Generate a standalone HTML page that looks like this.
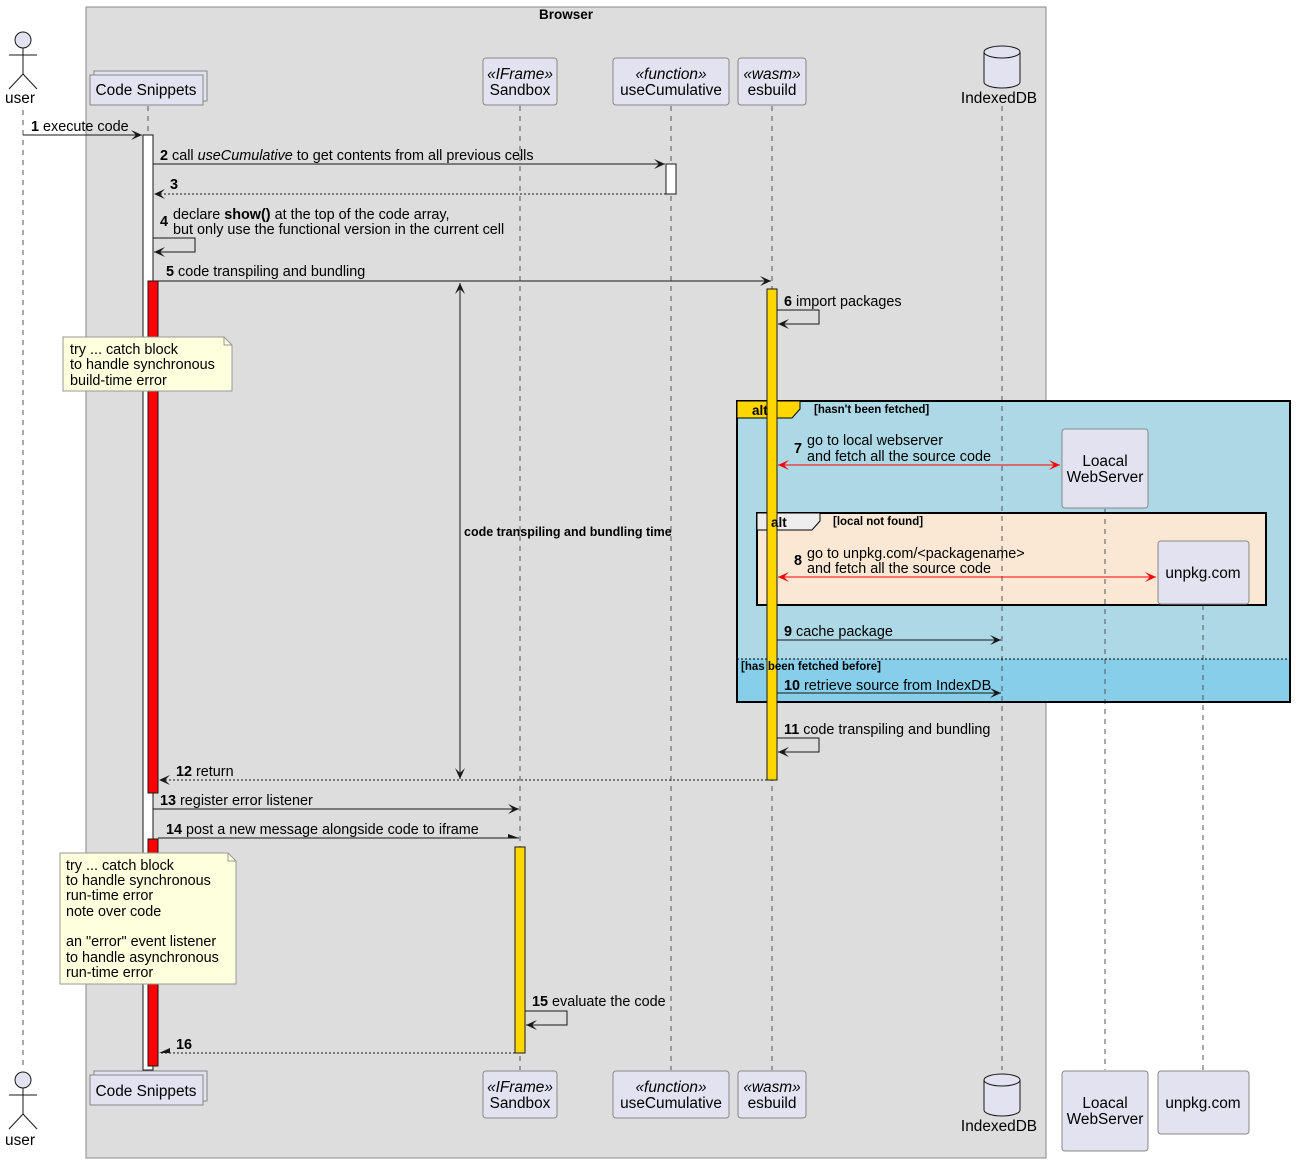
<!DOCTYPE html>
<html><head><meta charset="utf-8"><style>
html,body{margin:0;padding:0;background:#fff}
svg{display:block}
text{font-family:"Liberation Sans","DejaVu Sans",sans-serif;fill:#000}
.m{font-size:14.4px}
.b{font-weight:bold}
.p{font-size:15.4px}
.ll{stroke:#555;stroke-width:1;stroke-dasharray:5,5}
.ln{stroke:#181818;stroke-width:1;fill:none}
.dl{stroke:#181818;stroke-width:1;stroke-dasharray:2,2;fill:none}
.box{fill:#E2E2F0;stroke:#888;stroke-width:1}
</style></head><body>
<svg width="1296" height="1163" viewBox="0 0 1296 1163" xmlns="http://www.w3.org/2000/svg">
<defs>
<marker id="a" markerWidth="12" markerHeight="10" refX="11" refY="5" orient="auto" markerUnits="userSpaceOnUse"><path d="M0,0 L11,5 L0,10 L5,5 Z" fill="#181818"/></marker>
<marker id="r" markerWidth="12" markerHeight="10" refX="11" refY="5" orient="auto-start-reverse" markerUnits="userSpaceOnUse"><path d="M0,0 L11,5 L0,10 L5,5 Z" fill="#f00"/></marker>
<marker id="v" markerWidth="12" markerHeight="10" refX="11" refY="5" orient="auto-start-reverse" markerUnits="userSpaceOnUse"><path d="M0,0 L11,5 L0,10 L5,5 Z" fill="#181818"/></marker>
<marker id="h" markerWidth="12" markerHeight="10" refX="11" refY="5" orient="auto" markerUnits="userSpaceOnUse"><path d="M0,1 L11,5 L0,5 Z" fill="#181818"/></marker>
</defs>
<rect x="86" y="7" width="960" height="1151" fill="#DDDDDD" stroke="#888"/>
<text x="566" y="19" class="b" font-size="13.5" text-anchor="middle">Browser</text>

<rect x="737" y="401" width="553" height="301" fill="#ADD8E6"/>
<rect x="738" y="659" width="551" height="42" fill="#87CEEB"/>
<rect x="757" y="513" width="509" height="92" fill="#FAE8D4"/>

<line class="ll" x1="23" y1="110" x2="23" y2="1070"/>
<line class="ll" x1="148" y1="106" x2="148" y2="1070"/>
<line class="ll" x1="520" y1="106" x2="520" y2="1070"/>
<line class="ll" x1="671" y1="106" x2="671" y2="1070"/>
<line class="ll" x1="772" y1="106" x2="772" y2="1070"/>
<line class="ll" x1="1002" y1="106" x2="1002" y2="1070"/>
<line class="ll" x1="1105" y1="509" x2="1105" y2="1070"/>
<line class="ll" x1="1203" y1="605" x2="1203" y2="1070"/>

<rect x="737" y="401" width="553" height="301" fill="none" stroke="#000" stroke-width="2"/>
<line x1="737" y1="659" x2="1290" y2="659" stroke="#000" stroke-dasharray="2,2"/>
<path d="M737,401 L800,401 L800,409 L792,418 L737,418 Z" fill="#FFD700" stroke="#000"/>
<rect x="757" y="513" width="509" height="92" fill="none" stroke="#000" stroke-width="2"/>
<path d="M757,513 L820,513 L820,521 L812,530 L757,530 Z" fill="#EEEEEE" stroke="#000"/>

<g stroke="#181818" fill="#E2E2F0">
<circle cx="23" cy="40" r="8"/>
<line x1="23" y1="48" x2="23" y2="74"/><line x1="9" y1="55" x2="37" y2="55"/>
<line x1="23" y1="74" x2="9" y2="89"/><line x1="23" y1="74" x2="37" y2="89"/>
<circle cx="23" cy="1080" r="8"/>
<line x1="23" y1="1088" x2="23" y2="1114"/><line x1="9" y1="1095" x2="37" y2="1095"/>
<line x1="23" y1="1114" x2="9" y2="1129"/><line x1="23" y1="1114" x2="37" y2="1129"/>
</g>
<text x="20" y="103" class="p" text-anchor="middle">user</text>
<text x="20" y="1145" class="p" text-anchor="middle">user</text>

<rect class="box" x="94" y="71" width="113" height="30"/>
<rect class="box" x="90" y="75" width="113" height="30"/>
<text x="146" y="95" class="p" text-anchor="middle">Code Snippets</text>
<rect class="box" x="483" y="58" width="74" height="47" rx="3"/>
<text x="520" y="79" class="p" text-anchor="middle" font-style="italic">«IFrame»</text>
<text x="520" y="95" class="p" text-anchor="middle">Sandbox</text>
<rect class="box" x="613" y="58" width="116" height="47" rx="3"/>
<text x="671" y="79" class="p" text-anchor="middle" font-style="italic">«function»</text>
<text x="671" y="95" class="p" text-anchor="middle">useCumulative</text>
<rect class="box" x="738" y="58" width="68" height="47" rx="3"/>
<text x="772" y="79" class="p" text-anchor="middle" font-style="italic">«wasm»</text>
<text x="772" y="95" class="p" text-anchor="middle">esbuild</text>
<g stroke="#181818" fill="#E2E2F0">
<path d="M984,52 L984,82 A18,6 0 0 0 1020,82 L1020,52"/>
<ellipse cx="1002" cy="52" rx="18" ry="6"/>
</g>
<text x="999" y="103" class="p" text-anchor="middle">IndexedDB</text>

<rect class="box" x="94" y="1071" width="113" height="30"/>
<rect class="box" x="90" y="1075" width="113" height="30"/>
<text x="146" y="1096" class="p" text-anchor="middle">Code Snippets</text>
<rect class="box" x="483" y="1071" width="74" height="47" rx="3"/>
<text x="520" y="1092" class="p" text-anchor="middle" font-style="italic">«IFrame»</text>
<text x="520" y="1108" class="p" text-anchor="middle">Sandbox</text>
<rect class="box" x="613" y="1071" width="116" height="47" rx="3"/>
<text x="671" y="1092" class="p" text-anchor="middle" font-style="italic">«function»</text>
<text x="671" y="1108" class="p" text-anchor="middle">useCumulative</text>
<rect class="box" x="738" y="1071" width="68" height="47" rx="3"/>
<text x="772" y="1092" class="p" text-anchor="middle" font-style="italic">«wasm»</text>
<text x="772" y="1108" class="p" text-anchor="middle">esbuild</text>
<g stroke="#181818" fill="#E2E2F0">
<path d="M984,1080 L984,1110 A18,6 0 0 0 1020,1110 L1020,1080"/>
<ellipse cx="1002" cy="1080" rx="18" ry="6"/>
</g>
<text x="999" y="1131" class="p" text-anchor="middle">IndexedDB</text>
<rect class="box" x="1062" y="1071" width="86" height="80" rx="3"/>
<text x="1105" y="1108" class="p" text-anchor="middle">Loacal</text>
<text x="1105" y="1124" class="p" text-anchor="middle">WebServer</text>
<rect class="box" x="1158" y="1071" width="91" height="63" rx="3"/>
<text x="1203" y="1108" class="p" text-anchor="middle">unpkg.com</text>

<rect x="143" y="135" width="10" height="935" fill="#fff" stroke="#181818"/>
<rect x="666" y="164" width="10" height="30" fill="#fff" stroke="#181818"/>
<rect x="148" y="281" width="10" height="512" fill="#f00" stroke="#181818"/>
<rect x="148" y="839" width="10" height="227" fill="#f00" stroke="#181818"/>

<rect class="box" x="1062" y="429" width="86" height="79" rx="3"/>
<text x="1105" y="466" class="p" text-anchor="middle">Loacal</text>
<text x="1105" y="482" class="p" text-anchor="middle">WebServer</text>
<rect class="box" x="1158" y="541" width="91" height="63" rx="3"/>
<text x="1203" y="578" class="p" text-anchor="middle">unpkg.com</text>

<rect x="767" y="289" width="10" height="491" fill="#FFD700" stroke="#181818"/>
<rect x="515" y="847" width="10" height="206" fill="#FFD700" stroke="#181818"/>

<text x="752" y="415" class="b" font-size="13.5">alt</text>
<text x="814" y="413" class="b" font-size="11.5">[hasn't been fetched]</text>
<text x="741" y="670" class="b" font-size="11.5">[has been fetched before]</text>
<text x="771" y="527" class="b" font-size="13.5">alt</text>
<text x="833" y="525" class="b" font-size="11.5">[local  not found]</text>

<line class="ln" x1="23" y1="135" x2="142" y2="135" marker-end="url(#a)"/>
<text x="31" y="131" class="m"><tspan class="b">1</tspan> execute code</text>

<line class="ln" x1="153" y1="164" x2="665" y2="164" marker-end="url(#a)"/>
<text x="160" y="160" class="m"><tspan class="b">2</tspan> call <tspan font-style="italic">useCumulative</tspan> to get contents from all previous cells</text>

<line class="dl" x1="666" y1="194" x2="154" y2="194" marker-end="url(#a)"/>
<text x="170" y="189" class="m b">3</text>

<text x="160" y="226" class="m b">4</text>
<text x="173" y="219" class="m">declare <tspan class="b">show()</tspan> at the top of the code array,</text>
<text x="173" y="234" class="m">but only use the functional version in the current cell</text>
<path class="ln" d="M153,238 L195,238 L195,252 L154,252" marker-end="url(#a)"/>

<line class="ln" x1="158" y1="281" x2="771" y2="281" marker-end="url(#a)"/>
<text x="166" y="276" class="m"><tspan class="b">5</tspan> code transpiling and bundling</text>

<line class="ln" x1="460" y1="283" x2="460" y2="779" marker-start="url(#v)" marker-end="url(#v)"/>
<text x="464" y="536" class="b" font-size="12.5">code transpiling and bundling time</text>

<text x="784" y="306" class="m"><tspan class="b">6</tspan> import packages</text>
<path class="ln" d="M777,310 L819,310 L819,324 L778,324" marker-end="url(#a)"/>

<path d="M63,337 L224,337 L232,345 L232,391 L63,391 Z" fill="#FEFFDD" stroke="#999"/>
<path d="M224,337 L224,345 L232,345" fill="none" stroke="#999"/>
<text x="70" y="354" class="m">try ... catch block</text>
<text x="70" y="369" class="m">to handle synchronous</text>
<text x="70" y="385" class="m">build-time error</text>

<line x1="778" y1="465" x2="1060" y2="465" stroke="#f00" marker-start="url(#r)" marker-end="url(#r)"/>
<text x="794" y="453" class="m b">7</text>
<text x="807" y="445" class="m">go to local webserver</text>
<text x="807" y="461" class="m">and fetch all the source code</text>

<line x1="778" y1="577" x2="1156" y2="577" stroke="#f00" marker-start="url(#r)" marker-end="url(#r)"/>
<text x="794" y="565" class="m b">8</text>
<text x="807" y="558" class="m">go to unpkg.com/&lt;packagename&gt;</text>
<text x="807" y="573" class="m">and fetch all the source code</text>

<line class="ln" x1="777" y1="640" x2="1001" y2="640" marker-end="url(#a)"/>
<text x="784" y="636" class="m"><tspan class="b">9</tspan> cache package</text>

<line class="ln" x1="777" y1="693" x2="1001" y2="693" marker-end="url(#a)"/>
<text x="784" y="690" class="m"><tspan class="b">10</tspan> retrieve source from IndexDB</text>

<text x="784" y="734" class="m"><tspan class="b">11</tspan> code transpiling and bundling</text>
<path class="ln" d="M777,738 L819,738 L819,752 L778,752" marker-end="url(#a)"/>

<line class="dl" x1="767" y1="780" x2="159" y2="780" marker-end="url(#a)"/>
<text x="176" y="776" class="m"><tspan class="b">12</tspan> return</text>

<line class="ln" x1="153" y1="809" x2="519" y2="809" marker-end="url(#a)"/>
<text x="160" y="805" class="m"><tspan class="b">13</tspan> register error listener</text>

<line class="ln" x1="158" y1="838" x2="519" y2="838" marker-end="url(#h)"/>
<text x="166" y="834" class="m"><tspan class="b">14</tspan> post a new message alongside code to iframe</text>

<path d="M60,853 L228,853 L236,861 L236,984 L60,984 Z" fill="#FEFFDD" stroke="#999"/>
<path d="M228,853 L228,861 L236,861" fill="none" stroke="#999"/>
<text x="66" y="870" class="m">try ... catch block</text>
<text x="66" y="885" class="m">to handle synchronous</text>
<text x="66" y="900" class="m">run-time error</text>
<text x="66" y="916" class="m">note over code</text>
<text x="66" y="946" class="m">an "error" event listener</text>
<text x="66" y="962" class="m">to handle asynchronous</text>
<text x="66" y="977" class="m">run-time error</text>

<text x="532" y="1006" class="m"><tspan class="b">15</tspan> evaluate the code</text>
<path class="ln" d="M525,1011 L567,1011 L567,1025 L526,1025" marker-end="url(#a)"/>

<line class="dl" x1="515" y1="1053" x2="159" y2="1053"/>
<path d="M159,1053 L170,1048 L170,1053 Z" fill="#181818"/>
<text x="176" y="1049" class="m b">16</text>
</svg>
</body></html>
